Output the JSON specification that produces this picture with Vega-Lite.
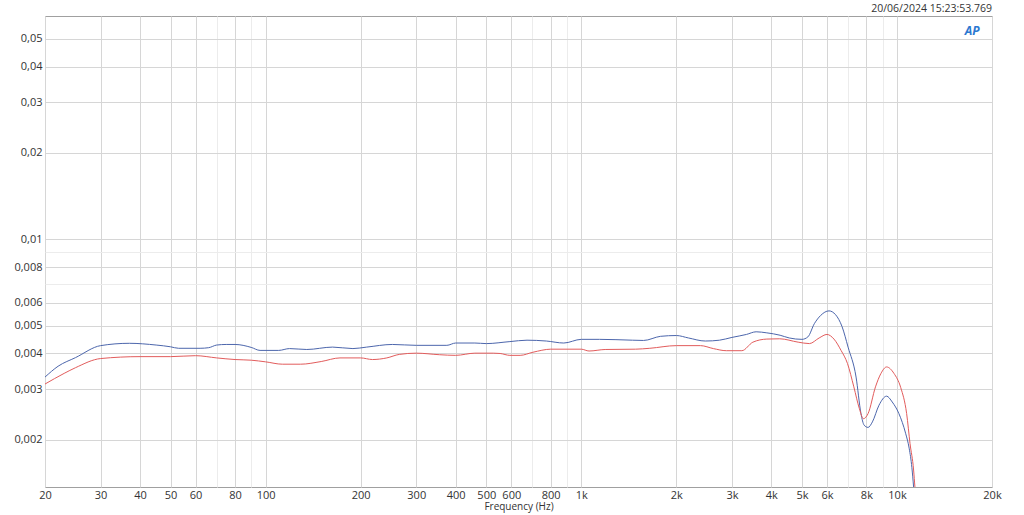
{
  "$schema": "https://vega.github.io/schema/vega-lite/v6.json",
  "width": 947,
  "height": 471,
  "autosize": {"type": "none"},
  "padding": {"left": 45, "top": 16, "right": 32, "bottom": 28},
  "background": "white",
  "config": {
    "font": "Open Sans",
    "view": {"stroke": "#a0a0a0", "strokeWidth": 1}
  },
  "title": {
    "text": "20/06/2024 15:23:53.769",
    "anchor": "end",
    "frame": "group",
    "fontSize": 10.5,
    "fontWeight": "normal",
    "color": "#333333",
    "offset": 2
  },
  "datasets": {
    "curves": [
      {"f": 20, "ch": "A", "v": 0.00331},
      {"f": 22, "ch": "A", "v": 0.00361},
      {"f": 25, "ch": "A", "v": 0.00387},
      {"f": 30, "ch": "A", "v": 0.00426},
      {"f": 37, "ch": "A", "v": 0.00434},
      {"f": 45, "ch": "A", "v": 0.00428},
      {"f": 50, "ch": "A", "v": 0.00422},
      {"f": 53, "ch": "A", "v": 0.00417},
      {"f": 62, "ch": "A", "v": 0.00417},
      {"f": 66, "ch": "A", "v": 0.00419},
      {"f": 70, "ch": "A", "v": 0.00428},
      {"f": 75, "ch": "A", "v": 0.0043},
      {"f": 80, "ch": "A", "v": 0.0043},
      {"f": 90, "ch": "A", "v": 0.0042},
      {"f": 96, "ch": "A", "v": 0.0041},
      {"f": 110, "ch": "A", "v": 0.0041},
      {"f": 119, "ch": "A", "v": 0.00416},
      {"f": 135, "ch": "A", "v": 0.00413},
      {"f": 163, "ch": "A", "v": 0.00421},
      {"f": 189, "ch": "A", "v": 0.00416},
      {"f": 209, "ch": "A", "v": 0.00421},
      {"f": 252, "ch": "A", "v": 0.0043},
      {"f": 300, "ch": "A", "v": 0.00427},
      {"f": 375, "ch": "A", "v": 0.00427},
      {"f": 400, "ch": "A", "v": 0.00435},
      {"f": 460, "ch": "A", "v": 0.00435},
      {"f": 500, "ch": "A", "v": 0.00433},
      {"f": 594, "ch": "A", "v": 0.0044},
      {"f": 673, "ch": "A", "v": 0.00445},
      {"f": 775, "ch": "A", "v": 0.00442},
      {"f": 880, "ch": "A", "v": 0.00435},
      {"f": 1000, "ch": "A", "v": 0.00448},
      {"f": 1141, "ch": "A", "v": 0.00448},
      {"f": 1453, "ch": "A", "v": 0.00445},
      {"f": 1575, "ch": "A", "v": 0.00444},
      {"f": 1782, "ch": "A", "v": 0.00459},
      {"f": 2000, "ch": "A", "v": 0.00462},
      {"f": 2185, "ch": "A", "v": 0.00453},
      {"f": 2470, "ch": "A", "v": 0.00442},
      {"f": 2740, "ch": "A", "v": 0.00445},
      {"f": 3000, "ch": "A", "v": 0.00455},
      {"f": 3335, "ch": "A", "v": 0.00466},
      {"f": 3580, "ch": "A", "v": 0.00476},
      {"f": 3870, "ch": "A", "v": 0.00472},
      {"f": 4264, "ch": "A", "v": 0.00463},
      {"f": 4558, "ch": "A", "v": 0.00453},
      {"f": 5000, "ch": "A", "v": 0.00448},
      {"f": 5222, "ch": "A", "v": 0.00457},
      {"f": 5473, "ch": "A", "v": 0.00508},
      {"f": 5734, "ch": "A", "v": 0.00543},
      {"f": 6090, "ch": "A", "v": 0.00563},
      {"f": 6390, "ch": "A", "v": 0.00546},
      {"f": 6700, "ch": "A", "v": 0.00496},
      {"f": 7000, "ch": "A", "v": 0.00421},
      {"f": 7420, "ch": "A", "v": 0.00331},
      {"f": 7690, "ch": "A", "v": 0.00247},
      {"f": 7870, "ch": "A", "v": 0.00225},
      {"f": 8100, "ch": "A", "v": 0.00221},
      {"f": 8360, "ch": "A", "v": 0.00231},
      {"f": 8770, "ch": "A", "v": 0.00264},
      {"f": 9270, "ch": "A", "v": 0.00284},
      {"f": 9660, "ch": "A", "v": 0.00271},
      {"f": 10140, "ch": "A", "v": 0.00247},
      {"f": 10660, "ch": "A", "v": 0.0021},
      {"f": 10930, "ch": "A", "v": 0.00187},
      {"f": 11150, "ch": "A", "v": 0.0016},
      {"f": 11290, "ch": "A", "v": 0.00137},
      {"f": 11400, "ch": "A", "v": 0.0012},
      {"f": 20, "ch": "B", "v": 0.00313},
      {"f": 23, "ch": "B", "v": 0.00341},
      {"f": 25, "ch": "B", "v": 0.00357},
      {"f": 30, "ch": "B", "v": 0.00384},
      {"f": 40, "ch": "B", "v": 0.0039},
      {"f": 50, "ch": "B", "v": 0.0039},
      {"f": 60, "ch": "B", "v": 0.00393},
      {"f": 70, "ch": "B", "v": 0.00386},
      {"f": 80, "ch": "B", "v": 0.00381},
      {"f": 90, "ch": "B", "v": 0.00379},
      {"f": 100, "ch": "B", "v": 0.00374},
      {"f": 113, "ch": "B", "v": 0.00367},
      {"f": 129, "ch": "B", "v": 0.00367},
      {"f": 150, "ch": "B", "v": 0.00375},
      {"f": 172, "ch": "B", "v": 0.00386},
      {"f": 200, "ch": "B", "v": 0.00386},
      {"f": 218, "ch": "B", "v": 0.00381},
      {"f": 242, "ch": "B", "v": 0.00386},
      {"f": 265, "ch": "B", "v": 0.00397},
      {"f": 300, "ch": "B", "v": 0.00401},
      {"f": 356, "ch": "B", "v": 0.00396},
      {"f": 400, "ch": "B", "v": 0.00394},
      {"f": 460, "ch": "B", "v": 0.00401},
      {"f": 526, "ch": "B", "v": 0.00401},
      {"f": 553, "ch": "B", "v": 0.004},
      {"f": 594, "ch": "B", "v": 0.00394},
      {"f": 640, "ch": "B", "v": 0.00394},
      {"f": 703, "ch": "B", "v": 0.00404},
      {"f": 800, "ch": "B", "v": 0.00414},
      {"f": 1000, "ch": "B", "v": 0.00414},
      {"f": 1058, "ch": "B", "v": 0.00408},
      {"f": 1190, "ch": "B", "v": 0.00413},
      {"f": 1485, "ch": "B", "v": 0.00414},
      {"f": 1648, "ch": "B", "v": 0.00417},
      {"f": 2000, "ch": "B", "v": 0.00426},
      {"f": 2386, "ch": "B", "v": 0.00426},
      {"f": 2620, "ch": "B", "v": 0.00416},
      {"f": 2880, "ch": "B", "v": 0.00409},
      {"f": 3225, "ch": "B", "v": 0.00409},
      {"f": 3496, "ch": "B", "v": 0.00438},
      {"f": 3870, "ch": "B", "v": 0.00449},
      {"f": 4250, "ch": "B", "v": 0.0045},
      {"f": 4865, "ch": "B", "v": 0.00438},
      {"f": 5280, "ch": "B", "v": 0.00433},
      {"f": 5668, "ch": "B", "v": 0.00453},
      {"f": 6000, "ch": "B", "v": 0.00466},
      {"f": 6315, "ch": "B", "v": 0.00449},
      {"f": 6650, "ch": "B", "v": 0.0041},
      {"f": 6970, "ch": "B", "v": 0.00369},
      {"f": 7300, "ch": "B", "v": 0.00306},
      {"f": 7600, "ch": "B", "v": 0.00257},
      {"f": 7830, "ch": "B", "v": 0.00237},
      {"f": 8100, "ch": "B", "v": 0.00247},
      {"f": 8550, "ch": "B", "v": 0.00306},
      {"f": 8900, "ch": "B", "v": 0.00341},
      {"f": 9270, "ch": "B", "v": 0.00359},
      {"f": 9780, "ch": "B", "v": 0.00341},
      {"f": 10280, "ch": "B", "v": 0.00304},
      {"f": 10730, "ch": "B", "v": 0.00247},
      {"f": 11000, "ch": "B", "v": 0.00194},
      {"f": 11290, "ch": "B", "v": 0.00157},
      {"f": 11400, "ch": "B", "v": 0.00137},
      {"f": 11550, "ch": "B", "v": 0.0012}
    ]
  },
  "layer": [
    {
      "data": {"name": "curves"},
      "mark": {"type": "line", "strokeWidth": 1, "clip": true, "interpolate": "monotone"},
      "encoding": {
        "x": {
          "field": "f",
          "type": "quantitative",
          "scale": {"type": "log", "domain": [20, 20000], "nice": false},
          "axis": {
            "title": "Frequency (Hz)",
            "titleFontSize": 10,
            "titleFontWeight": "normal",
            "titleColor": "#333333",
            "titlePadding": 1,
            "values": [20, 30, 40, 50, 60, 70, 80, 90, 100, 200, 300, 400, 500, 600, 700, 800, 900, 1000, 2000, 3000, 4000, 5000, 6000, 7000, 8000, 9000, 10000, 20000],
            "labelExpr": "indexof([70, 90, 700, 900, 7000, 9000], datum.value) >= 0 ? '' : (datum.value >= 1000 ? (datum.value / 1000) + 'k' : '' + datum.value)",
            "labelFontSize": 11,
            "labelColor": "#333333",
            "labelPadding": 2,
            "labelOverlap": false,
            "labelFlush": false,
            "labelBound": false,
            "ticks": false,
            "domain": false,
            "grid": true,
            "gridColor": {"condition": {"test": "indexof([70, 90, 700, 900, 7000, 9000], datum.value) >= 0", "value": "#ececec"}, "value": "#d6d6d6"},
            "gridWidth": 1
          }
        },
        "y": {
          "field": "v",
          "type": "quantitative",
          "scale": {"type": "log", "domain": [0.00137, 0.06], "nice": false},
          "axis": {
            "title": null,
            "values": [0.002, 0.003, 0.004, 0.005, 0.006, 0.007, 0.008, 0.009, 0.01, 0.02, 0.03, 0.04, 0.05],
            "labelExpr": "indexof([0.007, 0.009], datum.value) >= 0 ? '' : replace('' + datum.value, '.', ',')",
            "labelFontSize": 11,
            "labelColor": "#333333",
            "labelPadding": 3,
            "labelOverlap": false,
            "labelFlush": false,
            "labelBound": false,
            "ticks": false,
            "domain": false,
            "grid": true,
            "gridColor": {"condition": {"test": "indexof([0.007, 0.009], datum.value) >= 0", "value": "#ececec"}, "value": "#d6d6d6"},
            "gridWidth": 1
          }
        },
        "color": {
          "field": "ch",
          "type": "nominal",
          "scale": {"domain": ["A", "B"], "range": ["#4c66ac", "#e25c5c"]},
          "legend": null
        }
      }
    },
    {
      "data": {"values": [{}]},
      "mark": {"type": "text", "fontSize": 12, "fontStyle": "italic", "fontWeight": "bold", "color": "#2b78d0", "align": "center", "baseline": "middle"},
      "encoding": {
        "x": {"datum": 17300, "type": "quantitative"},
        "y": {"datum": 0.053, "type": "quantitative"},
        "text": {"value": "AP"}
      }
    }
  ]
}
